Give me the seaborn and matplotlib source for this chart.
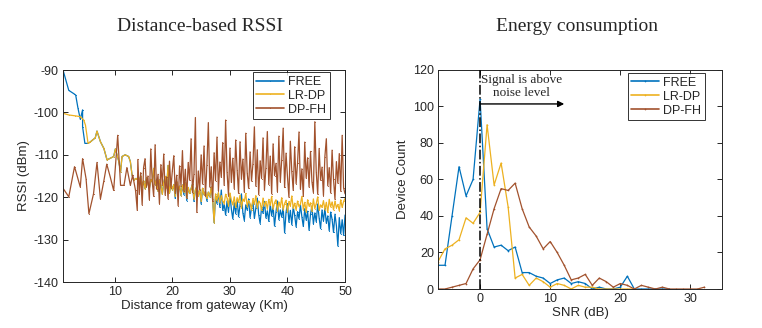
import numpy as np
import pandas as pd
import seaborn as sns
import matplotlib.pyplot as plt

# =============================
# Data: distance-based RSSI
# =============================
SERIES = ["FREE", "LR-DP", "DP-FH"]
COLORS = {"FREE": "#0072BD", "LR-DP": "#EDB120", "DP-FH": "#A2522D"}

free_early_km = [1, 2, 2.9, 3.2, 3.6, 4.0, 4.4, 4.4, 4.8, 5.35, 5.7, 6.6, 6.9, 7.5, 8.1,
                 8.65, 9.8, 10.1, 10.7, 11.0, 11.25, 11.8, 12.4, 12.7, 13.0, 13.3, 13.6]
free_early_rssi = [-90, -94.8, -95.6, -95.9, -99.0, -101.6, -99.4, -103.4, -107.3, -107.3, -107.0,
                   -106.0, -104.4, -106.9, -108.5, -111.2, -110.4, -108.6, -111.6, -114.0, -110.4,
                   -110.0, -110.4, -111.6, -114.8, -116.0, -115.6]

lrdp_early_km = [1, 2, 3.1, 4.0, 4.6, 4.9, 5.35, 5.7, 6.6, 6.9, 7.5, 8.1, 8.65, 9.8, 10.1,
                 10.7, 11.0, 11.25, 11.8, 12.4, 12.7, 13.0, 13.3, 13.6]
lrdp_early_rssi = [-100.2, -100.6, -100.8, -101.0, -101.8, -103.0, -107.3, -107.0, -106.0, -104.4,
                   -106.9, -108.5, -111.2, -110.4, -108.6, -111.6, -114.0, -110.4, -110.0, -110.4,
                   -111.6, -114.8, -116.0, -115.6]

dpfh_early_km = [1, 2, 3, 4, 4.4, 5, 5.5, 6.3, 6.9, 7.5, 8.1, 8.6, 9.2, 9.8, 10.5, 11, 11.6,
                 12.1, 12.7, 13.1, 13.6, 13.9]
dpfh_early_rssi = [-117.9, -119.9, -112.8, -117.6, -110.9, -115.6, -123.9, -119.2, -111.8, -120.4,
                   -116.1, -112.2, -115.2, -118.4, -105.4, -117.2, -117.2, -113.0, -117.2, -114.8,
                   -118.4, -123.1]

dense_km = [
    14.0, 14.25, 14.5, 14.75, 15.0, 15.25, 15.5, 15.75, 16.0, 16.25,
    16.5, 16.75, 17.0, 17.25, 17.5, 17.75, 18.0, 18.25, 18.5, 18.75,
    19.0, 19.25, 19.5, 19.75, 20.0, 20.25, 20.5, 20.75, 21.0, 21.25,
    21.5, 21.75, 22.0, 22.25, 22.5, 22.75, 23.0, 23.25, 23.5, 23.75,
    24.0, 24.25, 24.5, 24.75, 25.0, 25.25, 25.5, 25.75, 26.0, 26.25,
    26.5, 26.75, 27.0, 27.25, 27.5, 27.75, 28.0, 28.25, 28.5, 28.75,
    29.0, 29.25, 29.5, 29.75, 30.0, 30.25, 30.5, 30.75, 31.0, 31.25,
    31.5, 31.75, 32.0, 32.25, 32.5, 32.75, 33.0, 33.25, 33.5, 33.75,
    34.0, 34.25, 34.5, 34.75, 35.0, 35.25, 35.5, 35.75, 36.0, 36.25,
    36.5, 36.75, 37.0, 37.25, 37.5, 37.75, 38.0, 38.25, 38.5, 38.75,
    39.0, 39.25, 39.5, 39.75, 40.0, 40.25, 40.5, 40.75, 41.0, 41.25,
    41.5, 41.75, 42.0, 42.25, 42.5, 42.75, 43.0, 43.25, 43.5, 43.75,
    44.0, 44.25, 44.5, 44.75, 45.0, 45.25, 45.5, 45.75, 46.0, 46.25,
    46.5, 46.75, 47.0, 47.25, 47.5, 47.75, 48.0, 48.25, 48.5, 48.75,
    49.0, 49.25, 49.5, 49.75, 50.0,
]

free_dense_rssi = [
    -115.6, -116.2, -115.0, -117.5, -116.1, -118.0, -115.4, -116.8, -117.9, -115.8,
    -116.4, -113.2, -117.0, -116.0, -118.6, -115.9, -117.2, -119.3, -116.5, -115.1,
    -117.8, -112.5, -119.0, -116.9, -118.2, -117.0, -120.3, -116.3, -118.5, -117.4,
    -119.6, -117.1, -119.4, -116.6, -120.8, -117.7, -119.1, -118.0, -116.9, -121.0,
    -118.3, -117.5, -119.7, -118.1, -121.6, -117.9, -119.4, -118.6, -120.9, -118.8,
    -119.9, -117.6, -120.5, -126.0, -119.8, -121.5, -119.0, -122.4, -118.3, -123.1,
    -121.6, -124.2, -120.9, -123.5, -119.4, -122.8, -125.1, -121.3, -123.9, -120.6,
    -124.6, -122.0, -119.2, -123.7, -125.5, -121.8, -123.0, -120.4, -124.8, -122.5,
    -121.1, -125.0, -122.6, -120.2, -124.1, -126.2, -122.3, -123.8, -121.0, -124.9,
    -123.2, -125.7, -121.6, -124.4, -122.1, -126.8, -123.5, -120.9, -125.3, -123.0,
    -124.7, -122.4, -128.4, -123.6, -121.5, -125.9, -123.1, -126.5, -122.2, -124.3,
    -127.0, -123.4, -125.1, -121.8, -124.6, -126.9, -122.7, -125.4, -123.3, -127.8,
    -124.0, -122.1, -126.3, -123.7, -125.8, -121.6, -124.9, -127.4, -123.0, -125.6,
    -122.6, -126.1, -124.4, -127.9, -123.5, -125.2, -128.3, -124.0, -126.7, -131.5,
    -124.8, -128.6, -125.3, -129.0, -124.2,
]

lrdp_dense_rssi = [
    -115.6, -116.2, -115.0, -117.5, -116.1, -118.0, -115.4, -116.8, -117.9, -115.8,
    -116.4, -113.2, -117.0, -116.0, -118.6, -115.9, -117.2, -119.3, -116.5, -115.1,
    -117.8, -112.5, -119.0, -116.9, -118.2, -117.0, -119.8, -116.3, -118.5, -117.4,
    -119.6, -117.1, -118.8, -116.6, -120.2, -117.7, -119.1, -118.0, -116.9, -120.4,
    -118.3, -117.5, -119.7, -118.1, -121.0, -117.9, -119.4, -118.6, -120.3, -118.8,
    -119.9, -117.6, -120.5, -126.0, -119.2, -120.8, -118.9, -121.3, -119.6, -120.9,
    -121.5, -119.3, -120.2, -122.0, -119.0, -120.7, -121.8, -119.9, -122.4, -120.1,
    -121.2, -119.5, -122.6, -120.4, -121.0, -119.1, -122.2, -120.8, -121.5, -123.0,
    -120.3, -121.7, -119.6, -122.5, -120.9, -121.4, -123.1, -120.2, -122.0, -121.0,
    -122.7, -120.5, -121.9, -119.8, -122.8, -121.3, -120.6, -123.2, -121.1, -122.3,
    -120.1, -122.9, -121.5, -120.7, -123.4, -121.0, -122.1, -119.7, -122.6, -121.4,
    -123.0, -120.9, -122.2, -121.6, -119.8, -122.9, -121.2, -123.5, -120.6, -122.1,
    -121.3, -123.3, -120.4, -122.7, -121.5, -119.9, -123.1, -121.8, -122.4, -120.8,
    -122.9, -121.2, -123.6, -120.5, -122.3, -121.1, -123.0, -120.9, -122.5, -121.7,
    -123.2, -120.6, -122.4, -121.0, -120.3,
]

dpfh_dense_rssi = [
    -111.1, -119.3, -114.2, -121.8, -113.0, -110.9, -117.5, -115.0, -120.6, -108.6,
    -116.3, -119.8, -107.6, -118.1, -114.6, -121.5, -112.3, -117.0, -109.8, -119.5,
    -115.2, -120.4, -111.5, -117.8, -113.7, -110.2, -119.0, -114.8, -122.0, -112.6,
    -117.3, -109.0, -118.6, -113.4, -120.1, -111.8, -116.0, -106.2, -118.9, -114.5,
    -101.2, -123.6, -113.8, -118.2, -110.0, -116.9, -107.9, -119.7, -112.4, -102.4,
    -117.6, -112.8, -121.0, -109.5, -116.1, -105.8, -118.5, -111.7, -115.3, -107.1,
    -117.2, -101.8, -114.0, -119.6, -108.4, -116.5, -110.8, -118.0, -106.5, -113.6,
    -119.1, -106.9, -115.7, -111.0, -118.8, -104.9, -114.3, -117.9, -109.3, -116.2,
    -112.1, -103.4, -117.4, -108.8, -119.4, -111.4, -115.6, -106.0, -118.3, -113.1,
    -104.5, -117.0, -110.3, -119.2, -107.4, -114.9, -112.0, -118.7, -105.6, -116.4,
    -111.2, -103.7, -117.7, -109.6, -115.2, -120.0, -106.8, -113.9, -118.4, -108.1,
    -116.8, -111.9, -104.6, -118.1, -113.3, -119.8, -107.0, -115.5, -110.7, -117.6,
    -109.2, -116.3, -118.9, -102.2, -114.1, -119.3, -108.5, -116.0, -112.9, -119.6,
    -110.4, -106.2, -117.3, -113.0, -119.0, -108.9, -115.8, -120.5, -111.6, -116.7,
    -109.7, -118.6, -105.4, -117.8, -119.2,
]

# =============================
# Data: SNR histogram
# =============================
snr_db = [-6, -5, -4, -3, -2, -1, 0, 1, 2, 3, 4, 5, 6, 7, 8, 9, 10, 11, 12, 13,
          14, 15, 16, 17, 18, 19, 20, 21, 22, 23, 24, 25, 26, 27, 28, 29, 30, 31, 32]
free_count = [13, 13, 40, 67, 51, 60, 104, 33, 23, 24, 21, 23, 9, 9, 7, 6, 3, 5, 6, 3,
              4, 3, 0, 1, 0, 0, 1, 7, 0, 0, 0, 0, 0, 0, None, None, None, None, None]
lrdp_count = [15, 22, 24, 27, 39, 36, 42, 90, 57, 69, 45, 6, 8, 2, 6, 4, 1, 3, 2, 0,
              2, 1, 1, 0, 0, 0, 0, 0, 0, None, None, None, None, None, None, None, None, None, None]
dpfh_count = [0, 0, 1, 2, 3, 11, 16, 30, 44, 55, 54, 58, 44, 34, 29, 22, 26, 20, 13, 5,
              6, 8, 2, 6, 4, 1, 3, 2, 0, 2, 1, 0, 1, 0, 0, 0, 0, 0, 1]

# =============================
# Build long tables
# =============================
rssi_df = pd.concat([
    pd.DataFrame({"km": free_early_km + dense_km, "rssi": free_early_rssi + free_dense_rssi, "scheme": "FREE"}),
    pd.DataFrame({"km": lrdp_early_km + dense_km, "rssi": lrdp_early_rssi + lrdp_dense_rssi, "scheme": "LR-DP"}),
    pd.DataFrame({"km": dpfh_early_km + dense_km, "rssi": dpfh_early_rssi + dpfh_dense_rssi, "scheme": "DP-FH"}),
], ignore_index=True)

snr_df = pd.concat([
    pd.DataFrame({"snr": snr_db, "count": free_count, "scheme": "FREE"}),
    pd.DataFrame({"snr": snr_db, "count": lrdp_count, "scheme": "LR-DP"}),
    pd.DataFrame({"snr": snr_db, "count": dpfh_count, "scheme": "DP-FH"}),
], ignore_index=True).dropna()

# =============================
# Style
# =============================
sns.set_theme(style="ticks")
plt.rcParams["font.family"] = ["Liberation Sans", "DejaVu Sans"]
plt.rcParams["axes.unicode_minus"] = False
plt.rcParams["axes.edgecolor"] = "#262626"
plt.rcParams["xtick.color"] = "#262626"
plt.rcParams["ytick.color"] = "#262626"

fig = plt.figure(figsize=(7.62, 3.28), dpi=100)
ax1 = fig.add_axes([0.0827, 0.1402, 0.3701, 0.6463])
ax2 = fig.add_axes([0.5748, 0.1189, 0.3727, 0.6677])

# left: RSSI
sns.lineplot(data=rssi_df, x="km", y="rssi", hue="scheme", hue_order=SERIES, palette=COLORS,
             estimator=None, sort=False, linewidth=0.9, marker=".", markersize=1.5,
             markeredgewidth=0, ax=ax1)
ax1.set_xlim(1, 50)
ax1.set_ylim(-140, -90)
ax1.set_xticks([10, 20, 30, 40, 50])
ax1.set_yticks([-140, -130, -120, -110, -100, -90])
ax1.set_xlabel("Distance from gateway (Km)", fontsize=9.5, labelpad=1)
ax1.set_ylabel("RSSI (dBm)", fontsize=9.5, labelpad=3)

# right: SNR
sns.lineplot(data=snr_df, x="snr", y="count", hue="scheme", hue_order=SERIES, palette=COLORS,
             estimator=None, sort=False, linewidth=0.9, marker=".", markersize=2.5,
             markeredgewidth=0, ax=ax2)
ax2.set_xlim(-6, 34.5)
ax2.set_ylim(0, 120)
ax2.set_xticks([0, 10, 20, 30])
ax2.set_yticks([0, 20, 40, 60, 80, 100, 120])
ax2.set_xlabel("SNR (dB)", fontsize=9.5, labelpad=1)
ax2.set_ylabel("Device Count", fontsize=9.5, labelpad=3)

ax2.axvline(0, color="black", linestyle="-.", linewidth=1.1, zorder=5)
ax2.annotate("", xy=(12, 101.4), xytext=(0, 101.4),
             arrowprops=dict(arrowstyle="-|>", color="black", lw=1.0,
                             mutation_scale=9, shrinkA=0, shrinkB=0))
ax2.text(5.9, 111, "Signal is above\nnoise level", ha="center", va="center",
         fontsize=9.5, family=["Liberation Serif"], linespacing=1.05)

# panel titles sit well above the axes
fig.text(0.263, 0.918, "Distance-based RSSI", ha="center", va="center",
         fontsize=14, family=["Liberation Serif"])
fig.text(0.757, 0.918, "Energy consumption", ha="center", va="center",
         fontsize=14, family=["Liberation Serif"])

for ax, anchor in ((ax1, (0.947, 0.99)), (ax2, (0.94, 0.986))):
    ax.tick_params(direction="in", length=3.5, width=0.7, top=True, right=True,
                   labelsize=9, pad=3)
    for s in ax.spines.values():
        s.set_visible(True)
        s.set_linewidth(0.7)
    handles, labels = ax.get_legend_handles_labels()
    leg = ax.legend(handles, labels, loc="upper right", bbox_to_anchor=anchor,
                    borderaxespad=0, fontsize=9, frameon=True, fancybox=False,
                    edgecolor="black", handlelength=2.2, handletextpad=0.35,
                    borderpad=0.3, labelspacing=0.15)
    leg.get_frame().set_linewidth(0.7)
    for line in leg.get_lines():
        line.set_linewidth(1.2)

fig.savefig("out.png", dpi=100, facecolor="white")
